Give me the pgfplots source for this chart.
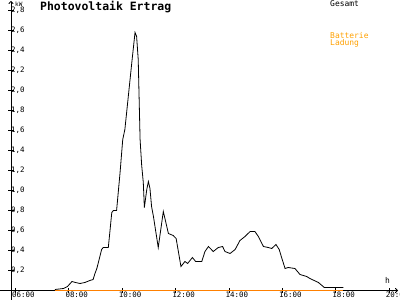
\documentclass[border=0pt]{standalone}
\usepackage{fontspec}
\setmainfont{DejaVu Sans Mono}
\usepackage{pgfplots}
\pgfplotsset{compat=1.18}
\usetikzlibrary{arrows.meta}
\definecolor{ladeline}{RGB}{255,128,0}
\definecolor{ladetext}{RGB}{255,160,0}
\begin{document}
\begin{tikzpicture}[x=1bp,y=1bp]
\useasboundingbox (0,0) rectangle (400,300);
\begin{axis}[
  at={(11bp,9.5bp)}, anchor=south west,
  scale only axis, width=387bp, height=289.5bp,
  xmin=5.835, xmax=20.33, ymin=0, ymax=2.895,
  axis lines=left,
  axis line style={line width=0.8bp, -{To[length=3bp,width=5bp]}},
  x axis line style={shorten <=-11bp},
  y axis line style={shorten <=-9bp},
  xtick={6,8,...,20},
  xticklabels={06:00,08:00,10:00,12:00,14:00,16:00,18:00,20:00},
  ytick={0.2,0.4,0.6,0.8,1.0,1.2,1.4,1.6,1.8,2.0,2.2,2.4,2.6,2.8},
  tick align=center, major tick length=5bp,
  tick style={line width=0.8bp, black},
  /pgf/number format/assume math mode=true,
  /pgf/number format/.cd, use comma, fixed, fixed zerofill, precision=1, /pgfplots/.cd,
  ticklabel style={font=\fontsize{7.5}{8}\selectfont},
  yticklabel style={anchor=west, xshift=1.5bp, inner sep=1bp},
  xticklabel style={anchor=north west, xshift=-4bp, yshift=2bp, inner sep=0.5bp},
  clip=false,
]
\addplot[line width=0.8bp, black] coordinates {
(7.48,0.01)(7.80,0.02)(7.95,0.04)(8.12,0.09)(8.25,0.08)(8.42,0.07)(8.60,0.08)
(8.79,0.10)(8.91,0.11)(8.98,0.17)(9.05,0.22)(9.23,0.41)(9.29,0.43)(9.48,0.43)
(9.61,0.78)(9.67,0.80)(9.79,0.80)(9.92,1.18)(10.02,1.51)(10.10,1.61)(10.36,2.28)
(10.48,2.58)(10.54,2.54)(10.60,2.31)(10.67,1.51)(10.73,1.25)(10.79,1.08)(10.83,0.83)
(10.92,1.01)(10.98,1.09)(11.04,1.02)(11.10,0.84)(11.17,0.74)(11.35,0.43)(11.54,0.79)
(11.73,0.57)(11.91,0.55)(12.02,0.52)(12.20,0.24)(12.35,0.29)(12.45,0.27)(12.63,0.33)
(12.75,0.29)(12.98,0.29)(13.10,0.39)(13.23,0.44)(13.41,0.39)(13.60,0.43)(13.76,0.44)
(13.85,0.39)(14.04,0.37)(14.23,0.41)(14.41,0.50)(14.60,0.54)(14.79,0.59)(14.97,0.59)
(15.10,0.54)(15.29,0.44)(15.47,0.43)(15.60,0.42)(15.76,0.46)(15.88,0.41)(15.97,0.33)
(16.10,0.22)(16.22,0.23)(16.47,0.22)(16.66,0.16)(16.91,0.14)(17.03,0.12)(17.35,0.08)
(17.57,0.03)(18.28,0.03)
};
\addplot[line width=1bp, ladeline] coordinates {(7.48,0)(18.28,0)};
\node[anchor=base west, inner sep=0, font=\bfseries\fontsize{11.5}{12}\selectfont] at (rel axis cs:0.0749,0.9655) {Photovoltaik Ertrag};
\node[anchor=base west, inner sep=0, font=\fontsize{6}{6}\selectfont] at (rel axis cs:0.0103,0.9803) {kW};
\node[anchor=base west, inner sep=0, font=\fontsize{8}{8}\selectfont] at (rel axis cs:0.966,0.0225) {h};
\node[anchor=base west, inner sep=0, font=\fontsize{8}{8}\selectfont] at (rel axis cs:0.8243,0.9793) {Gesamt};
\node[anchor=base west, inner sep=0, font=\fontsize{8}{8}\selectfont, text=ladetext] at (rel axis cs:0.8243,0.8705) {Batterie};
\node[anchor=base west, inner sep=0, font=\fontsize{8}{8}\selectfont, text=ladetext] at (rel axis cs:0.8243,0.8456) {Ladung};
\end{axis}
\end{tikzpicture}
\end{document}
